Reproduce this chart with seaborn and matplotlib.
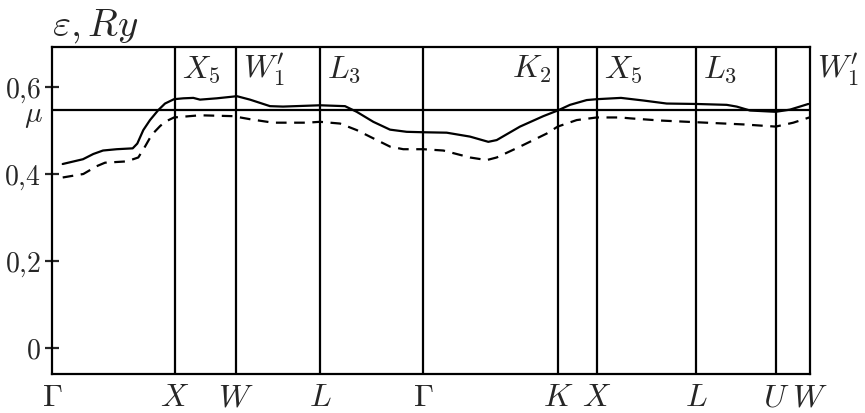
import matplotlib
matplotlib.use("Agg")
import matplotlib.pyplot as plt
import seaborn as sns
import pandas as pd

# High-symmetry points along the k-path (path length units)
kpoint_pos = [0, 123, 184, 268, 371, 506, 545, 644, 724, 758]
kpoint_labels = [r"$\Gamma$", r"$X$", r"$W$", r"$L$", r"$\Gamma$",
                 r"$K$", r"$X$", r"$L$", r"$U$", r"$W$"]

# Upper band (solid)
band1_k = [10.7, 31, 41.3, 51, 64.7, 80.7, 85.3, 91.3, 98, 106.3, 113, 122,
           131.3, 141.3, 148, 164.7, 181.3, 184.7, 198, 218, 231, 268, 293,
           304.7, 321.3, 338, 354.7, 371.3, 394.7, 418, 436.3, 444.7, 468,
           491.3, 505.7, 518, 534.7, 544.7, 569, 591.3, 614.7, 644.7, 674.7,
           684.7, 698, 723.7, 738, 756.3]
band1_e = [0.423, 0.434, 0.446, 0.454, 0.457, 0.459, 0.470, 0.501, 0.524, 0.547,
           0.562, 0.572, 0.574, 0.575, 0.571, 0.574, 0.578, 0.579, 0.571, 0.556,
           0.555, 0.558, 0.556, 0.543, 0.520, 0.502, 0.497, 0.496, 0.495, 0.486,
           0.474, 0.478, 0.509, 0.533, 0.546, 0.559, 0.570, 0.572, 0.575, 0.569,
           0.562, 0.561, 0.559, 0.555, 0.546, 0.543, 0.548, 0.561]

# Lower band (dashed)
band2_k = [10.7, 31.3, 44.7, 53, 74.7, 86.3, 93, 99.7, 108, 113, 122, 148, 181,
           198, 221, 254.7, 268, 288, 304.7, 321.3, 338, 351.3, 371.3, 391.3,
           418, 434.7, 444.7, 468, 494.7, 505.7, 524.7, 544.7, 568, 578, 608,
           644.7, 691.3, 723.7, 741.3, 757.3]
band2_e = [0.392, 0.400, 0.418, 0.426, 0.429, 0.438, 0.463, 0.490, 0.510, 0.520,
           0.530, 0.535, 0.533, 0.526, 0.518, 0.518, 0.520, 0.516, 0.501, 0.482,
           0.463, 0.457, 0.457, 0.454, 0.438, 0.432, 0.438, 0.463, 0.493, 0.509,
           0.524, 0.530, 0.530, 0.528, 0.523, 0.519, 0.514, 0.509, 0.518, 0.530]

mu = 0.547
yticks = [0, 0.2, 0.4, 0.6]
ytick_labels = [r"$0$", r"$0{,}2$", r"$0{,}4$", r"$0{,}6$"]

# State labels placed above the bands: (position, label, horizontal alignment)
state_pos = [123, 184, 268, 506, 545, 644, 758]
state_labels = [r"$X_5$", r"$W_1'$", r"$L_3$", r"$K_2$", r"$X_5$", r"$L_3$", r"$W_1'$"]
state_align = ["left", "left", "left", "right", "left", "left", "left"]

sns.set_style("ticks")
plt.rcParams["mathtext.fontset"] = "cm"

fig = plt.figure(figsize=(8.65, 4.13), dpi=100)
ax = fig.add_axes([52 / 865, 39 / 413, 758 / 865, 327 / 413])

df1 = pd.DataFrame({"k": band1_k, "e": band1_e})
df2 = pd.DataFrame({"k": band2_k, "e": band2_e})
sns.lineplot(data=df1, x="k", y="e", ax=ax, color="black", lw=1.6)
sns.lineplot(data=df2, x="k", y="e", ax=ax, color="black", lw=1.6,
             linestyle=(0, (4.8, 3.4)))

for p in kpoint_pos[1:-1]:
    ax.axvline(p, color="black", lw=1.6)
ax.axhline(mu, color="black", lw=1.6)

ax.set_xlim(0, 758)
ax.set_ylim(-0.0598, 0.692)
ax.set_xticks(kpoint_pos)
ax.set_xticklabels(kpoint_labels, fontsize=23)
ax.tick_params(axis="x", length=0, pad=6)
ax.set_yticks(yticks)
ax.set_yticklabels(ytick_labels, fontsize=20)
ax.tick_params(axis="y", direction="inout", length=10, width=1.6, pad=3)
ax.set_xlabel("")
ax.set_ylabel("")
for s in ax.spines.values():
    s.set_linewidth(1.6)
    s.set_color("black")

ax.text(-0.012, 0.520, r"$\mu$", transform=ax.get_yaxis_transform(),
        ha="right", va="baseline", fontsize=21)

for p, lab, ha in zip(state_pos, state_labels, state_align):
    dx = 5 if ha == "left" else -5
    ax.annotate(lab, (p, 0.64), xytext=(dx, 0), textcoords="offset points",
                ha=ha, va="center", fontsize=23, annotation_clip=False)

fig.text(52 / 865, (413 - 36) / 413, r"$\varepsilon, Ry$", fontsize=28,
         ha="left", va="baseline")

fig.savefig("out.png", dpi=100)
